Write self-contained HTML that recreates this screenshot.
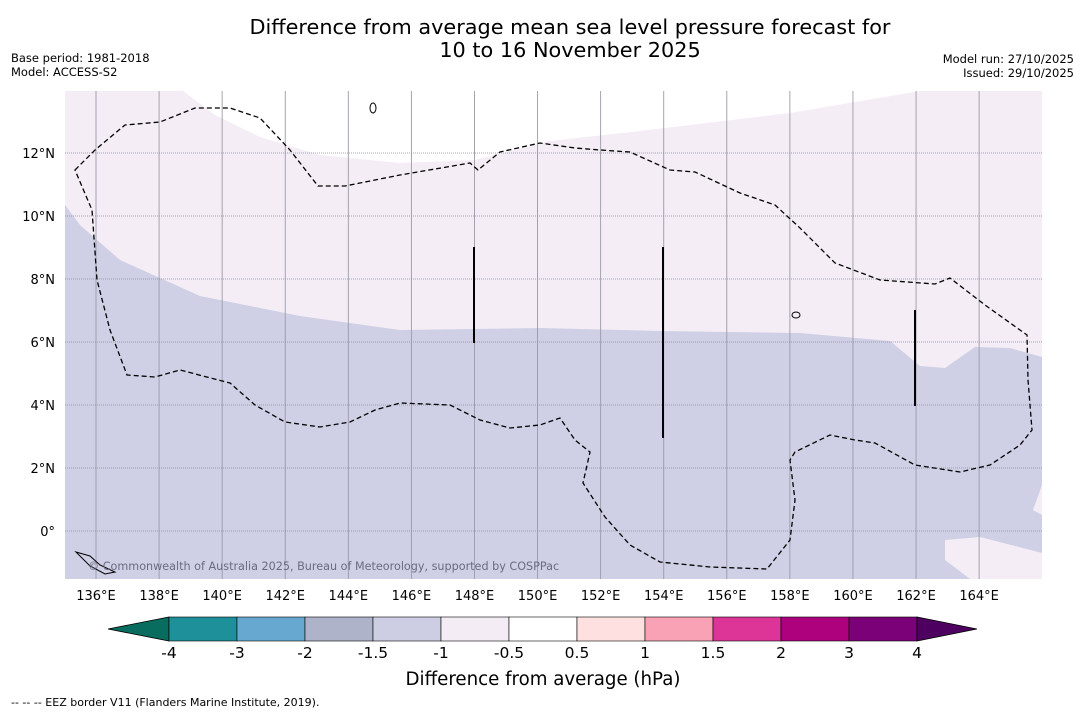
<!DOCTYPE html>
<html><head><meta charset="utf-8"><style>
body{margin:0;background:#fff;font-family:"DejaVu Sans","Liberation Sans",sans-serif}
svg text{font-family:"DejaVu Sans","Liberation Sans",sans-serif}
</style></head><body>
<svg id="s" width="1085" height="713" xmlns="http://www.w3.org/2000/svg">
<rect width="1085" height="713" fill="#fff"/>
<text x="570" y="34" font-size="20.8" text-anchor="middle">Difference from average mean sea level pressure forecast for</text>
<text x="570" y="57" font-size="20.8" text-anchor="middle">10 to 16 November 2025</text>
<text x="11" y="62" font-size="11.5">Base period: 1981-2018</text>
<text x="11" y="76" font-size="11.5">Model: ACCESS-S2</text>
<text x="1074" y="63" font-size="11.5" text-anchor="end">Model run: 27/10/2025</text>
<text x="1074" y="77" font-size="11.5" text-anchor="end">Issued: 29/10/2025</text>
<defs><clipPath id="cp"><rect x="65" y="91" width="977" height="488"/></clipPath></defs>
<g clip-path="url(#cp)" id="map">
<rect x="65" y="91" width="977" height="488" fill="#f4edf5"/>
<path d="M175,85 L215,115 L260,137 L320,155 L400,163 L475,160 L550,141 L640,131 L790,113 L920,91 L1050,85 Z" fill="#fff"/>
<path d="M65,205 L80,225 L120,260 L200,296 L300,316 L400,330 L540,328 L660,331 L800,333 L890,341 L920,366 L945,368 L975,347 L1010,348 L1042,357 L1042,485 L1033,510 L1042,515 L1042,553 L980,537 L945,540 L945,560 L970,579 L65,579 Z" fill="#cfd0e5"/>
<g id="grid"></g>
<path d="M75,170 L95,150 L125,125 L160,122 L195,108 L230,108 L260,118 L290,150 L318,186 L345,186 L400,175 L470,163 L478,170 L500,152 L540,143 L575,148 L600,150 L630,152 L670,170 L695,172 L740,193 L775,205 L800,228 L835,263 L880,280 L935,284 L950,278 L985,305 L1027,335 L1028,380 L1032,430 L1020,445 L990,465 L960,472 L915,465 L875,443 L855,440 L830,435 L795,452 L790,460 L795,500 L790,540 L767,569 L710,567 L660,562 L630,545 L605,517 L583,483 L590,452 L575,440 L560,418 L540,425 L510,428 L480,420 L450,405 L400,403 L375,410 L350,422 L320,427 L285,422 L255,405 L230,383 L180,370 L155,377 L127,375 L110,330 L97,280 L92,210 Z" fill="none" stroke="#000" stroke-width="1.3" stroke-dasharray="5,3"/>
<line x1="474" y1="247" x2="474" y2="343" stroke="#000" stroke-width="2"/>
<line x1="663" y1="247" x2="663" y2="438" stroke="#000" stroke-width="2"/>
<line x1="915" y1="310" x2="915" y2="406" stroke="#000" stroke-width="2"/>
<path d="M76,552 L90,556 L100,565 L115,572 L105,574 L90,566 Z" fill="none" stroke="#000" stroke-width="1"/>
<ellipse cx="373" cy="108" rx="3" ry="5" fill="none" stroke="#000"/>
<ellipse cx="796" cy="315" rx="4" ry="3" fill="none" stroke="#000"/>
<text x="88" y="570" font-size="11.2" fill="#6a6a80">© Commonwealth of Australia 2025, Bureau of Meteorology, supported by COSPPac</text>
</g>
<g id="axes"></g>
<g id="cbar"></g>
<text x="543" y="685" font-size="18.2" text-anchor="middle">Difference from average (hPa)</text>
<text x="11" y="706" font-size="11">--  --  -- EEZ border V11 (Flanders Marine Institute, 2019).</text>
</svg>
<script>
const lonTicks=[136,138,140,142,144,146,148,150,152,154,156,158,160,162,164];
const latTicks=[0,2,4,6,8,10,12];
const cbLevels=["-4","-3","-2","-1.5","-1","-0.5","0.5","1","1.5","2","3","4"];
const cbColors=["#1e9099","#66a8cf","#aeb3ca","#cdcee4","#f4ecf5","#ffffff","#fde0df","#f9a2b6","#dc3597","#ad017e","#7a0177"];
const lowColor="#086d5e", highColor="#4d0060";
const NS="http://www.w3.org/2000/svg";
const X=lon=>96+(lon-136)*31.54, Y=lat=>531-lat*31.5;
function mk(t,a,p){const e=document.createElementNS(NS,t);for(const k in a)e.setAttribute(k,a[k]);p.appendChild(e);return e;}
const grid=document.getElementById('grid'),axes=document.getElementById('axes'),cb=document.getElementById('cbar');
lonTicks.forEach(l=>{
 const g=mk('line',{x1:X(l),x2:X(l),y1:91,y2:579,stroke:'#9a9aaa','stroke-width':0.9},grid);
 
 
 const t=mk('text',{x:X(l),y:600,'font-size':13,'text-anchor':'middle'},axes);t.textContent=l+'°E';
 
 
});
latTicks.forEach(l=>{
 const g=mk('line',{x1:65,x2:1042,y1:Y(l),y2:Y(l),stroke:'#8a8a9a','stroke-width':0.8,'stroke-dasharray':'1,1'},grid);
 
 
 const t=mk('text',{x:55,y:Y(l)+5,'font-size':13,'text-anchor':'end'},axes);t.textContent=l===0?'0°':l+'°N';
 
 
});
const x0=169,w=68,y0=617,h=24;
const lt=mk('polygon',{points:`108,629 ${x0},${y0} ${x0},${y0+h}`,fill:lowColor,stroke:'#000','stroke-width':0.8},cb);


cbColors.forEach((c,i)=>{
 const r=mk('rect',{x:x0+i*w,y:y0,width:w,height:h,fill:c,stroke:'#000','stroke-width':0.6},cb);
 
 
});
const xe=x0+cbColors.length*w;
const ht=mk('polygon',{points:`${xe},${y0} ${xe},${y0+h} 977,629`,fill:highColor,stroke:'#000','stroke-width':0.8},cb);


cbLevels.forEach((v,i)=>{
 const t=mk('text',{x:x0+i*w,y:658,'font-size':15.5,'text-anchor':'middle'},cb);t.textContent=v;
 
 
});
</script>
</body></html>
